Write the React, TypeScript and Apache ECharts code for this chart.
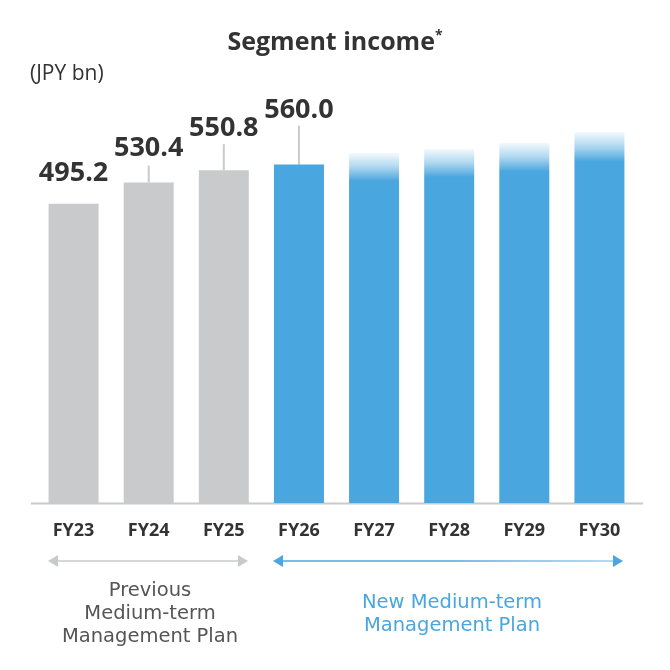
import { useEffect, useRef } from "react";
import * as echarts from "echarts";

// Fiscal years on the x axis
const categories = ["FY23", "FY24", "FY25", "FY26", "FY27", "FY28", "FY29", "FY30"];
// Segment income (JPY bn): results FY23–FY25 and the FY26 target, all labelled
const labelledValues = [495.2, 530.4, 550.8, 560.0];
// Unlabelled outlook bars FY27–FY30
const outlookValues = [579, 586, 596, 614];
// Number of bars that belong to the previous plan
const previousPlanCount = 3;
const yAxisMax = 700;

// Leader line lengths (px) and label distance above bar top (px)
const leaderLength = [0, 17, 26, 39];
const labelDistance = [20, 23, 31, 44];

const GRAY = "#c9cacc";
const BLUE = "#4aa6de";
const TEXT = "#333333";
const FONT = "'Open Sans', 'Noto Sans', sans-serif";
const PLAN_FONT = "'DejaVu Sans', sans-serif";

const previousPlanLines = ["Previous", "Medium-term", "Management Plan"];
const newPlanLines = ["New Medium-term", "Management Plan"];

export default function App() {
  const ref = useRef<HTMLDivElement>(null);

  useEffect(() => {
    if (!ref.current) return;
    const chart = echarts.init(ref.current, undefined, { renderer: "svg" });

    const fade = new echarts.graphic.LinearGradient(0, 0, 0, 1, [
      { offset: 0, color: "rgba(74,166,222,0.06)" },
      { offset: 0.04, color: "rgba(74,166,222,0.45)" },
      { offset: 0.08, color: "rgba(74,166,222,1)" },
      { offset: 1, color: BLUE },
    ]);

    const barData = categories.map((_, i) => {
      if (i < labelledValues.length) {
        return {
          value: labelledValues[i],
          itemStyle: { color: i < previousPlanCount ? GRAY : BLUE },
          label: { show: true, distance: labelDistance[i] },
        };
      }
      return {
        value: outlookValues[i - labelledValues.length],
        itemStyle: { color: fade },
        label: { show: false },
      };
    });

    const leaderData = labelledValues
      .map((v, i) => [i, v, leaderLength[i]])
      .filter((d) => d[2] > 0);

    const blueLine = new echarts.graphic.LinearGradient(
      281, 0, 615, 0,
      [
        { offset: 0, color: BLUE },
        { offset: 0.5, color: BLUE },
        { offset: 1, color: "#9ccfee" },
      ],
      true
    );

    const planText = (lines: string[], x: number, y0: number, fill: string) =>
      lines.map((t, k) => ({
        type: "text",
        x,
        y: y0 + k * 23,
        style: {
          text: t,
          fontFamily: PLAN_FONT,
          fontSize: 19.5,
          fill,
          align: "center",
          verticalAlign: "middle",
        },
      }));

    chart.setOption({
      animation: false,
      title: {
        text: "{a|Segment income}{b|*}",
        left: "center",
        top: 22,
        textStyle: {
          rich: {
            a: { fontFamily: FONT, fontSize: 25, fontWeight: "bold", color: TEXT },
            b: { fontFamily: FONT, fontSize: 14, fontWeight: "bold", color: TEXT, verticalAlign: "top" },
          },
        },
      },
      grid: { left: 36, right: 33, top: 80, bottom: 167 },
      xAxis: {
        type: "category",
        data: categories,
        axisLine: { show: false },
        axisTick: { show: false },
        axisLabel: {
          margin: 17,
          fontFamily: FONT,
          fontSize: 18,
          fontWeight: "bold",
          color: TEXT,
        },
      },
      yAxis: {
        type: "value",
        min: 0,
        max: yAxisMax,
        show: false,
      },
      series: [
        {
          type: "bar",
          data: barData,
          barWidth: 50,
          label: {
            position: "top",
            fontFamily: FONT,
            fontSize: 27,
            fontWeight: "bold",
            color: TEXT,
            formatter: (p: any) => Number(p.value).toFixed(1),
          },
          z: 2,
        },
        {
          type: "custom",
          data: leaderData,
          renderItem: (_params: any, api: any) => {
            const len = api.value(2);
            const p = api.coord([api.value(0), api.value(1)]);
            return {
              type: "line",
              shape: { x1: p[0], y1: p[1], x2: p[0], y2: p[1] - len },
              style: { stroke: GRAY, lineWidth: 2 },
            };
          },
          z: 1,
        },
      ],
      graphic: [
        {
          type: "text",
          left: 30,
          top: 61,
          style: { text: "(JPY bn)", fontFamily: FONT, fontSize: 21, fill: TEXT },
        },
        // baseline under the bars
        {
          type: "line",
          shape: { x1: 31, y1: 503.5, x2: 643, y2: 503.5 },
          style: { stroke: GRAY, lineWidth: 2 },
        },
        // previous plan span
        {
          type: "line",
          shape: { x1: 56, y1: 561, x2: 240, y2: 561 },
          style: { stroke: GRAY, lineWidth: 1.5 },
        },
        { type: "polygon", shape: { points: [[48, 561], [58, 555], [58, 567]] }, style: { fill: GRAY } },
        { type: "polygon", shape: { points: [[248, 561], [238, 555], [238, 567]] }, style: { fill: GRAY } },
        // new plan span
        {
          type: "line",
          shape: { x1: 281, y1: 561, x2: 615, y2: 561 },
          style: { stroke: blueLine, lineWidth: 1.5 },
        },
        { type: "polygon", shape: { points: [[273, 561], [283, 555], [283, 567]] }, style: { fill: BLUE } },
        { type: "polygon", shape: { points: [[623, 561], [613, 555], [613, 567]] }, style: { fill: BLUE } },
        ...planText(previousPlanLines, 150, 589, "#555555"),
        ...planText(newPlanLines, 452, 601, BLUE),
      ],
    });

    return () => chart.dispose();
  }, []);

  return (
    <div
      ref={ref}
      style={{ position: "fixed", left: 0, top: 0, width: 670, height: 670 }}
    />
  );
}
